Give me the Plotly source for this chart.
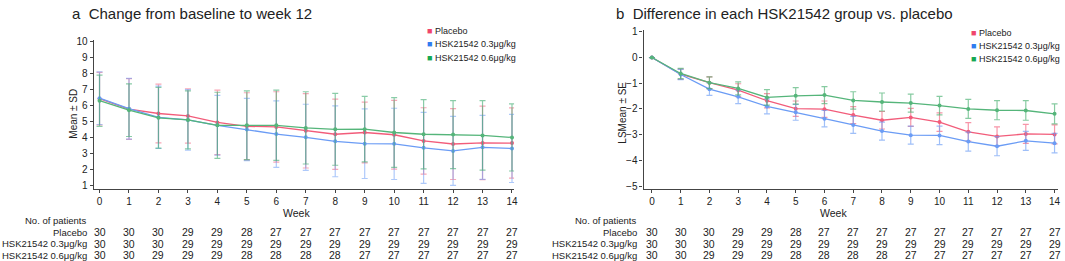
import plotly.graph_objects as go

weeks = list(range(15))
groups = ["Placebo", "HSK21542 0.3μg/kg", "HSK21542 0.6μg/kg"]

# Panel a: mean change ± SD
placebo_mean = [6.45, 5.80, 5.52, 5.37, 4.96, 4.72, 4.68, 4.44, 4.22, 4.33, 4.19, 3.80, 3.61, 3.68, 3.67]
placebo_sd = [1.65, 1.90, 1.84, 1.70, 2.02, 2.10, 2.20, 2.33, 2.20, 1.90, 2.15, 2.08, 2.22, 2.30, 2.20]
low_mean = [6.48, 5.82, 5.28, 5.12, 4.78, 4.52, 4.23, 4.03, 3.78, 3.63, 3.62, 3.37, 3.18, 3.40, 3.33]
low_sd = [1.65, 1.90, 1.95, 1.90, 1.87, 1.95, 2.08, 2.07, 2.22, 2.18, 2.23, 2.22, 2.16, 2.00, 2.13]
high_mean = [6.32, 5.73, 5.25, 5.12, 4.78, 4.78, 4.78, 4.62, 4.53, 4.54, 4.33, 4.22, 4.20, 4.15, 4.02]
high_sd = [1.60, 1.65, 1.90, 1.82, 2.07, 2.15, 2.20, 2.26, 2.25, 2.05, 2.18, 2.17, 2.13, 2.18, 2.10]

# Panel b: LS mean difference ± SE
placebo_ls = [0, -0.65, -0.98, -1.27, -1.68, -1.99, -2.01, -2.24, -2.44, -2.33, -2.51, -2.89, -3.07, -2.97, -2.99]
placebo_se = [0, 0.20, 0.23, 0.25, 0.28, 0.30, 0.32, 0.33, 0.34, 0.35, 0.36, 0.36, 0.37, 0.37, 0.37]
low_ls = [0, -0.66, -1.23, -1.53, -1.90, -2.13, -2.38, -2.62, -2.86, -3.02, -3.03, -3.27, -3.45, -3.24, -3.33]
low_se = [0, 0.20, 0.24, 0.26, 0.29, 0.31, 0.32, 0.33, 0.35, 0.35, 0.36, 0.37, 0.37, 0.37, 0.38]
high_ls = [0, -0.62, -0.98, -1.20, -1.55, -1.49, -1.46, -1.67, -1.73, -1.77, -1.87, -2.00, -2.05, -2.06, -2.19]
high_se = [0, 0.20, 0.23, 0.25, 0.30, 0.32, 0.33, 0.34, 0.35, 0.35, 0.36, 0.37, 0.37, 0.38, 0.39]

# Number of patients
placebo_n = [30, 30, 30, 29, 29, 28, 27, 27, 27, 27, 27, 27, 27, 27, 27]
low_n = [30, 30, 30, 29, 29, 29, 29, 29, 29, 29, 29, 29, 29, 29, 29]
high_n = [30, 30, 29, 29, 29, 28, 28, 28, 28, 27, 27, 27, 27, 27, 27]

line_colors = ["#F25C7A", "#6B9CF5", "#55B57A"]
bar_colors_a = ["rgba(242,92,122,0.55)", "rgba(107,156,245,0.55)", "rgba(60,170,110,0.6)"]
bar_colors_b = ["rgba(242,92,122,0.65)", "rgba(107,156,245,0.65)", "rgba(70,175,110,0.65)"]
legend_colors = ["#F0456C", "#2F7CF0", "#14A853"]

FONT = "Arial, Liberation Sans, Helvetica, sans-serif"
TXT = "#222222"

fig = go.Figure()

panel_a = [(placebo_mean, placebo_sd), (low_mean, low_sd), (high_mean, high_sd)]
panel_b = [(placebo_ls, placebo_se), (low_ls, low_se), (high_ls, high_se)]

for i, (m, s) in enumerate(panel_a):
    fig.add_trace(go.Scatter(
        x=weeks, y=m, mode="lines+markers", name=groups[i], showlegend=False,
        line=dict(color=line_colors[i], width=1.3),
        marker=dict(color=line_colors[i], size=4),
        error_y=dict(type="data", array=s, visible=True, color=bar_colors_a[i], thickness=1.2, width=3),
        xaxis="x", yaxis="y"))

for i, (m, s) in enumerate(panel_b):
    fig.add_trace(go.Scatter(
        x=weeks, y=m, mode="lines+markers", name=groups[i], showlegend=False,
        line=dict(color=line_colors[i], width=1.3),
        marker=dict(color=line_colors[i], size=4),
        error_y=dict(type="data", array=s, visible=True, color=bar_colors_b[i], thickness=1.2, width=3),
        xaxis="x2", yaxis="y2"))

axis_common = dict(showgrid=False, zeroline=False, showline=True, linecolor="#444", linewidth=1.2,
                   ticks="outside", ticklen=3, tickcolor="#444", tickwidth=1,
                   tickfont=dict(family=FONT, size=10, color=TXT))

fig.update_layout(
    width=1065, height=261,
    margin=dict(l=0, r=0, t=0, b=0),
    plot_bgcolor="white", paper_bgcolor="white",
    font=dict(family=FONT, color=TXT),
    showlegend=False,
    xaxis=dict(domain=[94/1065, 516/1065], range=[-0.2, 14.07], tickvals=weeks, anchor="y", **axis_common),
    yaxis=dict(domain=[1-190/261, 1-37/261], range=[0.8, 10.12], tickvals=list(range(1, 11)), anchor="x", **axis_common),
    xaxis2=dict(domain=[646/1065, 1062/1065], range=[-0.29, 14.12], tickvals=weeks, anchor="y2", **axis_common),
    yaxis2=dict(domain=[1-190/261, 1-27/261], range=[-5.11, 1.06], tickvals=[-5, -4, -3, -2, -1, 0, 1], anchor="x2", **axis_common),
)

ann = []
def A(**kw):
    base = dict(showarrow=False, font=dict(family=FONT, size=10, color=TXT))
    base.update(kw)
    ann.append(base)

# Titles
A(text="a  Change from baseline to week 12", x=71/1065, y=1, xref="paper", yref="paper",
  xanchor="left", yanchor="top", borderpad=0, font=dict(family=FONT, size=15, color=TXT))
A(text="b  Difference in each HSK21542 group vs. placebo", x=617/1065, y=1, xref="paper", yref="paper",
  xanchor="left", yanchor="top", borderpad=0, font=dict(family=FONT, size=15, color=TXT))

# Axis titles
A(text="Mean ± SD", x=74/1065, y=1-113/261, xref="paper", yref="paper", textangle=-90,
  xanchor="center", yanchor="middle")
A(text="LSMean ± SE", x=625/1065, y=1-112/261, xref="paper", yref="paper", textangle=-90,
  xanchor="center", yanchor="middle")
A(text="Week", x=298/1065, y=1-214.5/261, xref="paper", yref="paper", xanchor="center", yanchor="middle",
  font=dict(family=FONT, size=10.5, color=TXT))
A(text="Week", x=837/1065, y=1-214.5/261, xref="paper", yref="paper", xanchor="center", yanchor="middle",
  font=dict(family=FONT, size=10.5, color=TXT))

# Legends (text glyphs)
for j, (lx, ly0) in enumerate([(427, 28), (973, 30)]):
    for i, g in enumerate(groups):
        A(text=f"<span style='color:{legend_colors[i]}'>■</span> {g}", x=lx/1065, y=1-(ly0+i*13.5)/261,
          xref="paper", yref="paper", xanchor="left", yanchor="middle",
          font=dict(family=FONT, size=9, color=TXT))

# Patient tables
row_y = [234.5, 246.5, 258]
counts = [placebo_n, low_n, high_n]
for xa, lab_x in [("x", 89), ("x2", 641)]:
    A(text="No. of patients", x=lab_x/1065, y=1-222.5/261, xref="paper", yref="paper",
      xanchor="right", yanchor="middle", font=dict(family=FONT, size=9.5, color=TXT))
    for i, g in enumerate(groups):
        A(text=g, x=lab_x/1065, y=1-row_y[i]/261, xref="paper", yref="paper",
          xanchor="right", yanchor="middle", font=dict(family=FONT, size=9.5, color=TXT))
        for w, n in zip(weeks, counts[i]):
            A(text=str(n), x=w, y=1-row_y[i]/261, xref=xa, yref="paper",
              xanchor="center", yanchor="middle", font=dict(family=FONT, size=10.5, color=TXT))

fig.update_layout(annotations=ann)
fig.write_html("out.html", config={"displayModeBar": False},
               post_script="document.body.style.margin='0';document.body.style.padding='0';"
                           "document.documentElement.style.overflow='hidden';")
